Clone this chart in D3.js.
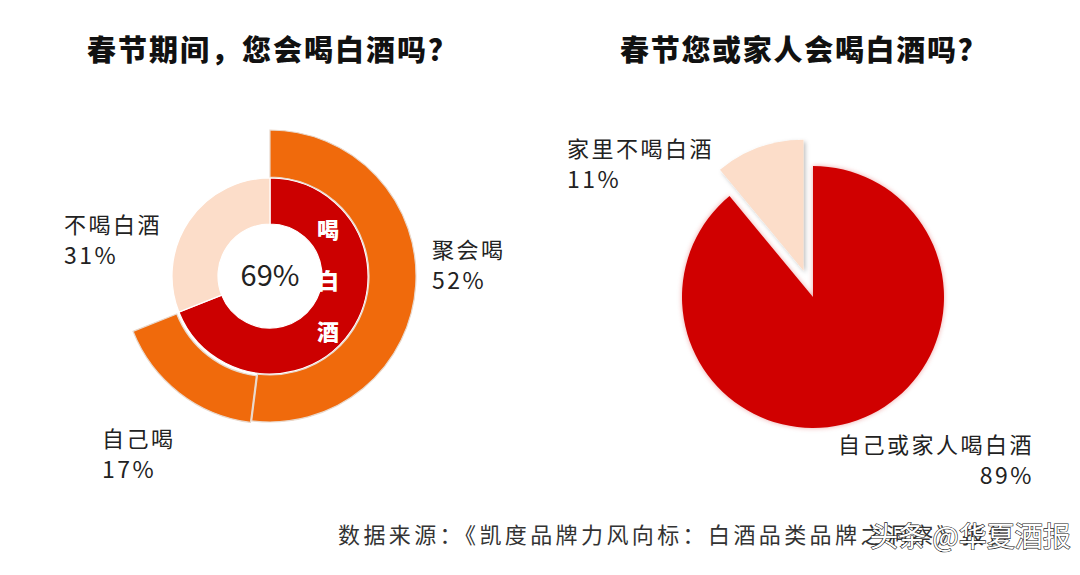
<!DOCTYPE html>
<html><head><meta charset="utf-8">
<script src="https://cdn.jsdelivr.net/npm/d3@7"></script>
<style>
html,body{margin:0;padding:0;background:#fff;}
svg{display:block;}
text{font-family:"Noto Sans CJK SC","Noto Sans",sans-serif;}
</style></head>
<body>
<svg id="c" width="1080" height="575"></svg>
<script>
// ---- data ----
const titles = ["春节期间，您会喝白酒吗？", "春节您或家人会喝白酒吗？"];
const innerCats = ["喝白酒", "不喝白酒"];
const innerVals = [69, 31];
const outerCats = ["聚会喝", "自己喝"];
const outerVals = [52, 17];
const rightCats = ["自己或家人喝白酒", "家里不喝白酒"];
const rightVals = [89, 11];
const source = "数据来源：《凯度品牌力风向标：白酒品类品牌之洞察》报告";
const watermark = "头条 @华夏酒报";

const svg = d3.select("#c");
const defs = svg.append("defs");
const sh = defs.append("filter").attr("id","sh").attr("x","-20%").attr("y","-20%").attr("width","140%").attr("height","140%");
sh.append("feDropShadow").attr("dx",2).attr("dy",2).attr("stdDeviation",2).attr("flood-color","#000").attr("flood-opacity",0.25);
const sh2 = defs.append("filter").attr("id","sh2").attr("x","-20%").attr("y","-20%").attr("width","140%").attr("height","140%");
sh2.append("feDropShadow").attr("dx",0).attr("dy",0).attr("stdDeviation",2.5).attr("flood-color","#c00").attr("flood-opacity",0.35);

// titles
svg.append("text").attr("x",87).attr("y",61).attr("font-size",29).attr("font-weight",900).attr("letter-spacing",2).attr("fill","#111").text(titles[0]);
svg.append("text").attr("x",620).attr("y",61).attr("font-size",29).attr("font-weight",900).attr("letter-spacing",1.7).attr("fill","#111").text(titles[1]);

const TAU = Math.PI*2;
// ---- left donut ----
const L = svg.append("g").attr("transform","translate(270,276)");
const pieIn = d3.pie().sort(null).value(d=>d);
const inArcs = pieIn(innerVals);
const arcIn = d3.arc().innerRadius(52).outerRadius(98);
const inColors = ["#CC0000","#FCDDC9"];
L.selectAll("path.in").data(inArcs).join("path").attr("class","in")
  .attr("d",arcIn).attr("fill",(d,i)=>inColors[i]).attr("stroke","#fff").attr("stroke-width",1.2);

const outerTotal = d3.sum(outerVals);
const pieOut = d3.pie().sort(null).value(d=>d).endAngle(TAU*outerTotal/100);
const outArcs = pieOut(outerVals);
const arcOut = d3.arc().innerRadius(99).outerRadius(146);
const outColors = ["#F06A0C","#F06A0C"];
const outExplode = [0, 2];
L.selectAll("path.out").data(outArcs).join("path").attr("class","out")
  .attr("transform",(d,i)=>{const a=(d.startAngle+d.endAngle)/2; return `translate(${Math.sin(a)*outExplode[i]},${-Math.cos(a)*outExplode[i]})`;})
  .attr("d",arcOut).attr("fill",(d,i)=>outColors[i]).attr("stroke","#e8d8cc").attr("stroke-width",1.2);

L.append("text").attr("x",0).attr("y",10).attr("text-anchor","middle").attr("font-size",29).attr("fill","#222").text(innerVals[0]+"%");
const vchars = innerCats[0].split("");
L.selectAll("text.v").data(vchars).join("text").attr("class","v")
  .attr("x",58).attr("y",(d,i)=>-38+i*51).attr("text-anchor","middle").attr("font-size",22).attr("font-weight",900).attr("fill","#fff").text(d=>d);

function label(x,y,name,val,anchor){
  const g = svg.append("g");
  g.append("text").attr("x",x).attr("y",y).attr("text-anchor",anchor||"start").attr("font-size",22).attr("letter-spacing",2.5).attr("fill","#222").text(name);
  g.append("text").attr("x",x).attr("y",y+31).attr("text-anchor",anchor||"start").attr("font-size",23).attr("letter-spacing",2.5).attr("fill","#222").text(val+"%");
}
label(64,233,innerCats[1],innerVals[1]);
label(432,258,outerCats[0],outerVals[0]);
label(102,447,outerCats[1],outerVals[1]);

// ---- right pie ----
const R = svg.append("g").attr("transform","translate(813,297)");
const pieR = d3.pie().sort(null).value(d=>d);
const rArcs = pieR(rightVals);
const arcR = d3.arc().innerRadius(0).outerRadius(131);
const rColors = ["#D00000","#FCDDC9"];
const rExplode = [0, 28];
R.selectAll("path").data(rArcs).join("path")
  .attr("transform",(d,i)=>{const a=(d.startAngle+d.endAngle)/2; return `translate(${Math.sin(a)*rExplode[i]},${-Math.cos(a)*rExplode[i]})`;})
  .attr("d",arcR).attr("fill",(d,i)=>rColors[i]).attr("filter",(d,i)=>i===1?"url(#sh)":"url(#sh2)");

label(567,157,rightCats[1],rightVals[1]);
label(1034,453,rightCats[0],rightVals[0],"end");

// footer
svg.append("text").attr("x",338).attr("y",543).attr("font-size",22).attr("letter-spacing",3.4).attr("fill","#333").text(source);
svg.append("text").attr("x",870).attr("y",547).attr("font-size",28).attr("fill","#fff").attr("stroke","#222").attr("stroke-width",1.2).attr("paint-order","stroke").text(watermark);
</script>
</body></html>
